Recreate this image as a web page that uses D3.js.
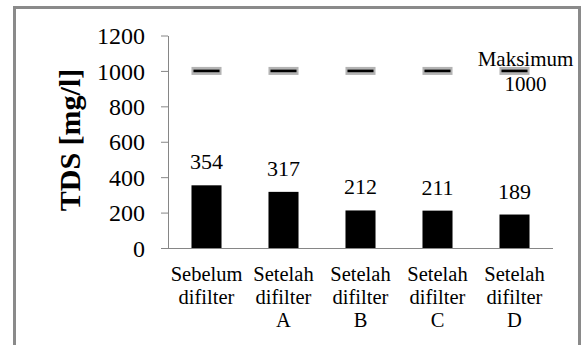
<!DOCTYPE html>
<html>
<head>
<meta charset="utf-8">
<script src="https://cdn.jsdelivr.net/npm/d3@7"></script>
</head>
<body style="margin:0">
<svg id="tds" width="587" height="345" font-family="'Times New Roman', 'Liberation Serif', Tinos, serif"></svg>
<script>
// TDS readings before and after each filter, with the 1000 mg/l limit
const categories = [
  ["Sebelum", "difilter"],
  ["Setelah", "difilter", "A"],
  ["Setelah", "difilter", "B"],
  ["Setelah", "difilter", "C"],
  ["Setelah", "difilter", "D"]
];
const tdsValues = [354, 317, 212, 211, 189];
const maxValues = [1000, 1000, 1000, 1000, 1000];
const yTicks = [0, 200, 400, 600, 800, 1000, 1200];
const maxLabel = ["Maksimum", "1000"];
const yTitle = "TDS [mg/l]";

const FACE = "'Times New Roman', 'Liberation Serif', Tinos, serif";
const svg = d3.select("#tds");
const plot = { left: 168, right: 553, top: 35.5, bottom: 248 };

// apply the serif face to a text selection
function serif(sel, size, weight) {
  sel.attr("font-family", FACE)
     .attr("font-size", size)
     .attr("font-weight", weight || null);
  return sel;
}

// outer frame
svg.append("rect")
  .attr("x", 14.5).attr("y", 7.5)
  .attr("width", 565).attr("height", 345)
  .attr("fill", "none").attr("stroke", "#8a8a8a").attr("stroke-width", 3);

const x = d3.scaleBand()
  .domain(d3.range(categories.length))
  .range([plot.left, plot.right])
  .paddingInner(0.61).paddingOuter(0.305);

const y = d3.scaleLinear().domain([0, 1200]).range([plot.bottom, plot.top]);

// y axis
const yAxis = svg.append("g")
  .attr("transform", `translate(${plot.left},0)`)
  .call(d3.axisLeft(y).tickValues(yTicks).tickFormat(d3.format("d"))
    .tickSize(7).tickPadding(16).tickSizeOuter(0));
serif(yAxis, 24);
yAxis.select(".domain").attr("stroke", "#868686");
yAxis.selectAll(".tick line").attr("stroke", "#868686");
serif(yAxis.selectAll(".tick text"), 24).attr("fill", "#000").attr("dy", "0.34em");

// x axis baseline (extends left to the tick length)
svg.append("line")
  .attr("x1", plot.left - 7).attr("x2", plot.right)
  .attr("y1", y(0) + 0.5).attr("y2", y(0) + 0.5)
  .attr("stroke", "#868686");

// axis title
serif(svg.append("text"), 30, "bold")
  .attr("transform", `translate(80,140) rotate(-90)`)
  .attr("text-anchor", "middle")
  .text(yTitle);

// bars
svg.selectAll("rect.bar")
  .data(tdsValues)
  .join("rect")
  .attr("class", "bar")
  .attr("x", (d, i) => x(i))
  .attr("width", x.bandwidth())
  .attr("y", d => y(d))
  .attr("height", d => y(0) - y(d))
  .attr("fill", "#000");

// value labels
serif(svg.selectAll("text.val")
  .data(tdsValues)
  .join("text"), 22)
  .attr("class", "val")
  .attr("x", (d, i) => x(i) + x.bandwidth() / 2)
  .attr("y", d => y(d) - 16)
  .attr("text-anchor", "middle")
  .text(d => d);

// limit markers
const marker = svg.selectAll("g.max")
  .data(maxValues)
  .join("g")
  .attr("class", "max")
  .attr("transform", (d, i) => `translate(${x(i)},${y(d)})`);
marker.append("rect")
  .attr("x", 0).attr("y", -4)
  .attr("width", x.bandwidth()).attr("height", 8)
  .attr("fill", "#b3b3b3");
marker.append("rect")
  .attr("x", 2).attr("y", -1.3)
  .attr("width", x.bandwidth() - 4).attr("height", 2.6)
  .attr("fill", "#000");

// limit label next to the last marker
const lastI = maxValues.length - 1;
const labelX = x(lastI) + x.bandwidth() / 2 + 11;
serif(svg.selectAll("text.maxlab")
  .data(maxLabel)
  .join("text"), 21)
  .attr("class", "maxlab")
  .attr("x", labelX)
  .attr("y", (d, i) => y(maxValues[lastI]) - 5 + i * 25)
  .attr("text-anchor", "middle")
  .text(d => d);

// category labels, one text per line
const catLines = categories.flatMap((lines, i) => lines.map((t, k) => ({ t, i, k })));
serif(svg.selectAll("text.cat")
  .data(catLines)
  .join("text"), 20.5)
  .attr("class", "cat")
  .attr("text-anchor", "middle")
  .attr("x", d => x(d.i) + x.bandwidth() / 2)
  .attr("y", d => 281 + d.k * 23)
  .text(d => d.t);
</script>
</body>
</html>
